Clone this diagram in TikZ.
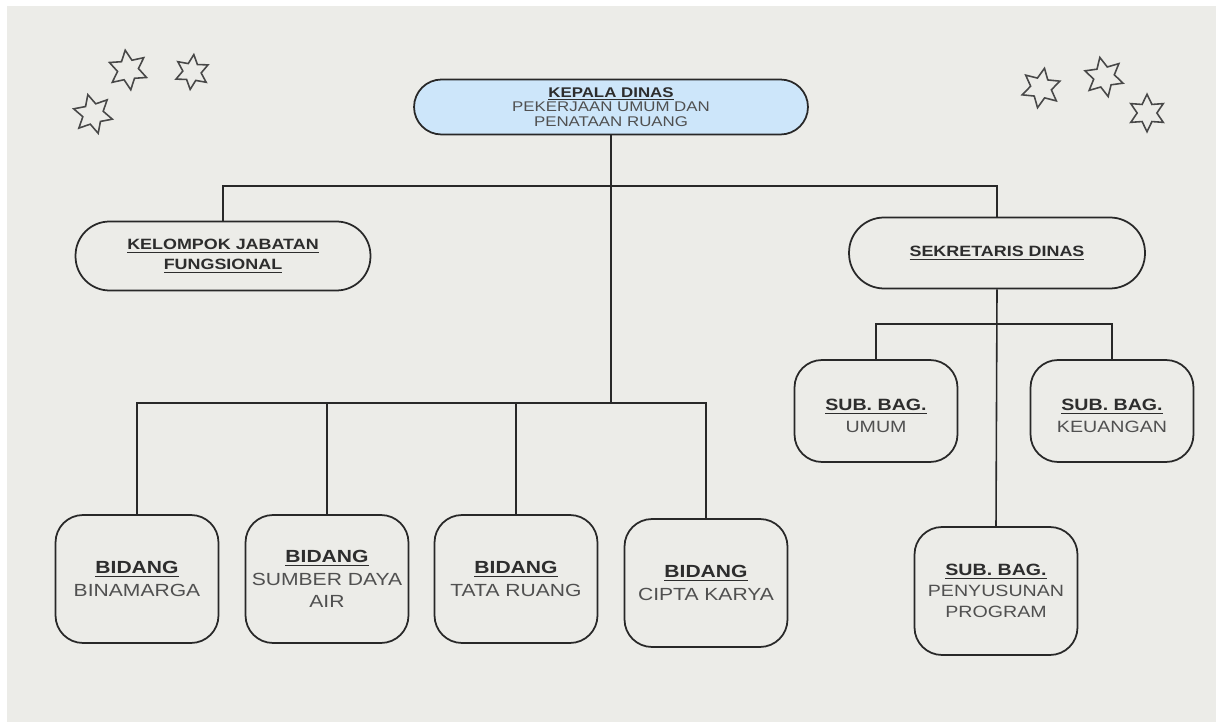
\documentclass[tikz,border=0pt]{standalone}
\usepackage{fontspec}
\setmainfont{Liberation Sans}[FakeStretch=1.2]
\usetikzlibrary{shapes.geometric}
\definecolor{bggray}{RGB}{236,236,232}
\definecolor{kepalablue}{RGB}{205,230,250}
\definecolor{linegray}{RGB}{40,40,40}
\definecolor{titlegray}{RGB}{45,45,45}
\definecolor{textgray}{RGB}{80,80,80}
\newcommand{\judul}[1]{{\bfseries\color{titlegray}\underline{#1}}}
\begin{document}
\begin{tikzpicture}[x=0.02cm, y=-0.02cm,
	pill/.style={draw=linegray, line width=1pt, align=center, inner sep=0pt, text=textgray},
	unit/.style={draw=linegray, line width=1pt, align=center, rounded corners=0.55cm, minimum width=3.26cm, minimum height=2.56cm, inner sep=0pt, text=textgray, font=\fontsize{10}{13}\selectfont},
	subbag/.style={unit, minimum height=2.04cm, font=\fontsize{9.3}{12}\selectfont},
	bintang/.style={star, star points=6, star point ratio=1.9, draw=linegray!85, line width=0.9pt, minimum size=0.8cm, inner sep=0pt},
	conn/.style={draw=linegray, line width=0.9pt}]
	\useasboundingbox (0,0) rectangle (1216,722);
	\fill[white] (0,0) rectangle (1216,722);
	\fill[bggray] (7,6) rectangle (1216,722);
	% bintang
	\node[bintang, rotate=8] (s1) at (128,70) {};
	\node[bintang, rotate=-6, minimum size=0.7cm] (s2) at (192,72) {};
	\node[bintang, rotate=15] (s3) at (93,114) {};
	\node[bintang, rotate=-10] (s4) at (1041,88) {};
	\node[bintang, rotate=12] (s5) at (1104,77) {};
	\node[bintang, rotate=0, minimum size=0.75cm] (s6) at (1147,113) {};
	% pimpinan
	\node[pill, fill=kepalablue, rounded corners=0.55cm, minimum width=7.88cm, minimum height=1.1cm, font=\fontsize{8}{8.3}\selectfont] (kepala) at (611,107) {\judul{KEPALA DINAS}\\PEKERJAAN UMUM DAN\\PENATAAN RUANG};
	\node[pill, rounded corners=0.68cm, minimum width=5.9cm, minimum height=1.38cm, font=\fontsize{8.5}{11.4}\selectfont] (kelompok) at (223,256) {\judul{KELOMPOK JABATAN}\\\judul{FUNGSIONAL}};
	\node[pill, rounded corners=0.7cm, minimum width=5.92cm, minimum height=1.42cm, font=\fontsize{8.5}{11.4}\selectfont] (sekretaris) at (997,253) {\judul{SEKRETARIS DINAS}};
	% sub bagian
	\node[subbag] (umum) at (876,411) {\mbox{}\\\judul{SUB. BAG.}\\UMUM};
	\node[subbag] (keuangan) at (1112,411) {\mbox{}\\\judul{SUB. BAG.}\\KEUANGAN};
	\node[unit, font=\fontsize{9.3}{12}\selectfont] (penyusunan) at (996,591) {\judul{SUB. BAG.}\\PENYUSUNAN\\PROGRAM};
	% bidang
	\node[unit] (binamarga) at (137,579) {\judul{BIDANG}\\BINAMARGA};
	\node[unit] (sumber) at (327,579) {\judul{BIDANG}\\SUMBER DAYA\\AIR};
	\node[unit] (tataruang) at (516,579) {\judul{BIDANG}\\TATA RUANG};
	\node[unit] (ciptakarya) at (706,583) {\judul{BIDANG}\\CIPTA KARYA};
	% garis
	\coordinate (topbus) at (611,186);
	\coordinate (bidbus) at (611,403);
	\coordinate (subbus) at (997,324);
	\draw[conn] (kepala.south) -- (bidbus);
	\draw[conn] (kelompok.north) |- (topbus) -| (sekretaris.north);
	\draw[conn] (binamarga.north) |- (bidbus) -| (ciptakarya.north);
	\draw[conn] (sumber.north) -- (sumber.north |- bidbus);
	\draw[conn] (tataruang.north) -- (tataruang.north |- bidbus);
	\draw[conn] (sekretaris.south) -- (penyusunan.north);
	\draw[conn] (umum.north) |- (subbus) -| (keuangan.north);
\end{tikzpicture}
\end{document}
